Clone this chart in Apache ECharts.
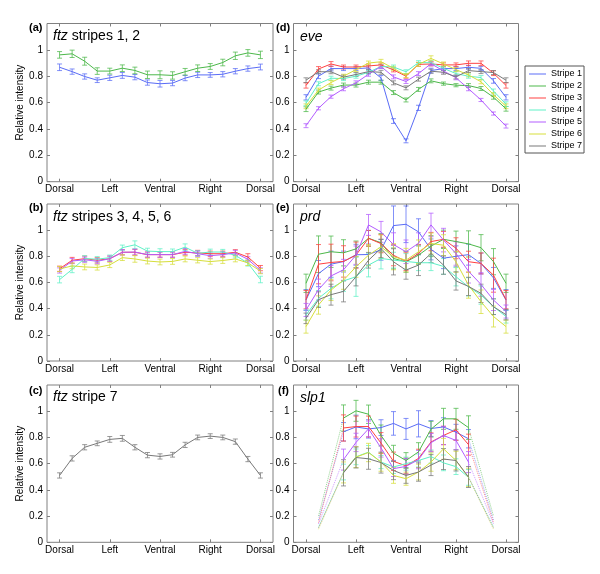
<!DOCTYPE html>
<html><head><meta charset="utf-8">
<script src="https://cdn.jsdelivr.net/npm/echarts@6/dist/echarts.min.js"></script>
<style>html,body{margin:0;padding:0;background:#fff}#c{width:600px;height:574px}</style>
</head><body><div id="c"></div><script>
// ---- axis labels ----
const xLabels = ['Dorsal','Left','Ventral','Right','Dorsal'];
const xTickPos = [0,4,8,12,16];
const yTickPos = [0,0.2,0.4,0.6,0.8,1];
const yTickLabels = ['0','0.2','0.4','0.6','0.8','1'];
const stripeNames = ['Stripe 1','Stripe 2','Stripe 3','Stripe 4','Stripe 5','Stripe 6','Stripe 7'];

// ---- (a) ftz stripes 1, 2 ----
const ftz12_s1 = [0.868,0.835,0.798,0.77,0.788,0.806,0.793,0.752,0.743,0.748,0.786,0.81,0.81,0.815,0.838,0.858,0.87];
const ftz12_s1_err = [0.025,0.02,0.02,0.018,0.02,0.022,0.02,0.02,0.025,0.02,0.02,0.02,0.018,0.02,0.02,0.02,0.022];
const ftz12_s2 = [0.962,0.97,0.914,0.839,0.839,0.861,0.844,0.811,0.811,0.806,0.834,0.861,0.874,0.904,0.955,0.977,0.962];
const ftz12_s2_err = [0.025,0.028,0.03,0.025,0.022,0.025,0.025,0.028,0.03,0.028,0.025,0.025,0.022,0.025,0.028,0.025,0.028];

// ---- (b) ftz stripes 3, 4, 5, 6 ----
const ftz3456_s3 = [0.705,0.77,0.782,0.77,0.782,0.831,0.831,0.813,0.813,0.813,0.831,0.826,0.82,0.82,0.831,0.795,0.71];
const ftz3456_s3_err = [0.02,0.022,0.02,0.02,0.02,0.02,0.022,0.02,0.02,0.02,0.022,0.02,0.02,0.02,0.02,0.025,0.02];
const ftz3456_s4 = [0.622,0.7,0.783,0.778,0.79,0.866,0.888,0.84,0.836,0.836,0.87,0.823,0.833,0.833,0.808,0.748,0.623];
const ftz3456_s4_err = [0.025,0.025,0.022,0.02,0.02,0.02,0.03,0.022,0.022,0.02,0.025,0.02,0.022,0.02,0.02,0.022,0.025];
const ftz3456_s5 = [0.692,0.764,0.774,0.762,0.782,0.831,0.833,0.813,0.813,0.813,0.838,0.82,0.805,0.813,0.826,0.777,0.692];
const ftz3456_s5_err = [0.02,0.02,0.02,0.02,0.02,0.02,0.022,0.02,0.02,0.02,0.022,0.02,0.02,0.02,0.02,0.02,0.02];
const ftz3456_s6 = [0.703,0.727,0.719,0.715,0.734,0.79,0.78,0.764,0.757,0.761,0.78,0.77,0.76,0.768,0.78,0.75,0.687];
const ftz3456_s6_err = [0.02,0.022,0.022,0.02,0.02,0.022,0.025,0.022,0.022,0.022,0.022,0.02,0.02,0.022,0.022,0.02,0.02];

// ---- (c) ftz stripe 7 ----
const ftz7_s7 = [0.51,0.64,0.725,0.755,0.785,0.793,0.725,0.665,0.655,0.668,0.743,0.80,0.81,0.80,0.768,0.635,0.51];
const ftz7_s7_err = [0.02,0.02,0.02,0.018,0.022,0.022,0.02,0.02,0.02,0.018,0.02,0.018,0.018,0.018,0.02,0.02,0.02];

// ---- (d) eve ----
const eve_s1 = [0.64,0.80,0.858,0.858,0.858,0.863,0.787,0.46,0.31,0.56,0.843,0.858,0.858,0.868,0.86,0.765,0.64];
const eve_s2 = [0.55,0.68,0.71,0.733,0.733,0.755,0.755,0.676,0.62,0.70,0.765,0.744,0.732,0.729,0.707,0.641,0.553];
const eve_s3 = [0.73,0.855,0.893,0.87,0.87,0.878,0.886,0.848,0.80,0.89,0.893,0.886,0.886,0.898,0.898,0.823,0.73];
const eve_s4 = [0.595,0.743,0.785,0.782,0.80,0.83,0.874,0.87,0.834,0.903,0.903,0.86,0.82,0.80,0.79,0.688,0.588];
const eve_s5 = [0.425,0.557,0.645,0.705,0.75,0.815,0.874,0.795,0.76,0.82,0.895,0.84,0.788,0.705,0.62,0.517,0.422];
const eve_s6 = [0.572,0.695,0.752,0.80,0.85,0.90,0.91,0.86,0.805,0.89,0.935,0.893,0.85,0.81,0.758,0.66,0.572];
const eve_s7 = [0.77,0.834,0.834,0.793,0.813,0.835,0.83,0.75,0.712,0.778,0.838,0.83,0.795,0.843,0.835,0.828,0.77];
const eve_s1_err = [0.02,0.018,0.018,0.015,0.015,0.015,0.018,0.018,0.015,0.02,0.018,0.015,0.015,0.015,0.015,0.018,0.02];
const eve_s2_err = [0.018,0.015,0.015,0.015,0.015,0.015,0.015,0.015,0.015,0.015,0.015,0.012,0.012,0.015,0.015,0.015,0.018];
const eve_s3_err = [0.02,0.018,0.018,0.015,0.015,0.015,0.015,0.015,0.015,0.015,0.015,0.015,0.015,0.018,0.018,0.018,0.02];
const eve_s4_err = [0.018,0.015,0.015,0.015,0.015,0.015,0.015,0.015,0.015,0.015,0.015,0.015,0.015,0.015,0.015,0.015,0.018];
const eve_s5_err = [0.015,0.012,0.012,0.015,0.015,0.015,0.015,0.015,0.015,0.015,0.015,0.015,0.015,0.015,0.012,0.012,0.015];
const eve_s6_err = [0.018,0.015,0.015,0.015,0.015,0.015,0.018,0.015,0.015,0.015,0.02,0.015,0.015,0.015,0.015,0.015,0.018];
const eve_s7_err = [0.018,0.015,0.015,0.015,0.015,0.015,0.015,0.015,0.015,0.015,0.015,0.015,0.015,0.015,0.015,0.015,0.018];

// ---- (e) prd ----
const prd_s1 = [0.466,0.668,0.74,0.76,0.812,0.814,0.85,1.035,1.045,0.987,0.853,0.786,0.80,0.813,0.745,0.635,0.466];
const prd_s2 = [0.594,0.816,0.835,0.827,0.857,0.938,0.904,0.784,0.758,0.809,0.878,0.93,0.913,0.895,0.866,0.759,0.594];
const prd_s3 = [0.469,0.74,0.753,0.761,0.809,0.938,0.897,0.808,0.761,0.821,0.913,0.93,0.862,0.759,0.746,0.656,0.469];
const prd_s4 = [0.352,0.479,0.555,0.612,0.644,0.733,0.784,0.771,0.761,0.751,0.751,0.723,0.644,0.567,0.504,0.415,0.34];
const prd_s5 = [0.39,0.546,0.65,0.697,0.809,1.04,0.987,0.89,0.835,0.9,1.04,0.924,0.822,0.686,0.585,0.466,0.378];
const prd_s6 = [0.263,0.428,0.542,0.618,0.72,0.809,0.873,0.797,0.771,0.835,0.898,0.885,0.758,0.58,0.453,0.34,0.263];
const prd_s7 = [0.326,0.469,0.507,0.532,0.644,0.77,0.86,0.758,0.695,0.733,0.822,0.733,0.612,0.57,0.517,0.415,0.354];
const prd_s1_err = [0.08,0.1,0.1,0.08,0.08,0.08,0.08,0.15,0.14,0.1,0.08,0.08,0.08,0.08,0.08,0.08,0.08];
const prd_s2_err = [0.07,0.14,0.12,0.1,0.06,0.06,0.07,0.08,0.08,0.07,0.08,0.07,0.08,0.1,0.1,0.1,0.07];
const prd_s3_err = [0.07,0.15,0.14,0.12,0.1,0.06,0.07,0.08,0.07,0.07,0.07,0.06,0.08,0.08,0.08,0.13,0.07];
const prd_s4_err = [0.04,0.06,0.08,0.08,0.15,0.09,0.08,0.06,0.06,0.06,0.06,0.06,0.07,0.07,0.07,0.06,0.05];
const prd_s5_err = [0.05,0.08,0.08,0.08,0.07,0.08,0.08,0.09,0.09,0.08,0.09,0.09,0.09,0.09,0.09,0.08,0.05];
const prd_s6_err = [0.05,0.07,0.08,0.07,0.08,0.08,0.09,0.1,0.09,0.09,0.08,0.08,0.08,0.1,0.09,0.08,0.05];
const prd_s7_err = [0.04,0.06,0.08,0.08,0.07,0.06,0.07,0.1,0.07,0.08,0.07,0.07,0.07,0.07,0.07,0.06,0.04];

// ---- (f) slp1 (positions 3..13), dotted tails to positions 1 and 15 ----
const slp1_start = 3;
const slp1_s1 = [0.843,0.88,0.865,0.875,0.907,0.865,0.904,0.868,0.88,0.84,0.79];
const slp1_s2 = [0.948,1.003,0.977,0.815,0.68,0.624,0.69,0.863,0.942,0.942,0.875];
const slp1_s3 = [0.872,0.883,0.883,0.757,0.618,0.583,0.64,0.765,0.815,0.858,0.745];
const slp1_s4 = [0.536,0.652,0.688,0.612,0.575,0.6,0.624,0.654,0.606,0.577,0.495];
const slp1_s5 = [0.631,0.762,0.865,0.72,0.562,0.579,0.631,0.76,0.815,0.777,0.612];
const slp1_s6 = [0.533,0.65,0.685,0.612,0.51,0.485,0.536,0.612,0.713,0.624,0.495];
const slp1_s7 = [0.53,0.647,0.637,0.608,0.548,0.51,0.536,0.589,0.635,0.624,0.498];
const slp1_s1_err = [0.07,0.09,0.07,0.06,0.09,0.08,0.1,0.06,0.07,0.06,0.07];
const slp1_s2_err = [0.1,0.08,0.07,0.08,0.06,0.06,0.07,0.06,0.08,0.08,0.09];
const slp1_s3_err = [0.1,0.08,0.08,0.08,0.07,0.06,0.07,0.07,0.07,0.08,0.08];
const slp1_s4_err = [0.06,0.06,0.05,0.05,0.05,0.05,0.05,0.05,0.06,0.06,0.06];
const slp1_s5_err = [0.08,0.07,0.06,0.07,0.06,0.06,0.07,0.07,0.07,0.07,0.08];
const slp1_s6_err = [0.08,0.08,0.07,0.07,0.06,0.05,0.06,0.07,0.08,0.07,0.07];
const slp1_s7_err = [0.1,0.08,0.08,0.08,0.07,0.06,0.07,0.08,0.08,0.08,0.08];
const slp1_tailPos = [1, 15];
const slp1_tailLeft  = [0.17,0.2,0.15,0.12,0.14,0.1,0.11];
const slp1_tailRight = [0.17,0.2,0.15,0.12,0.14,0.1,0.11];

// ---- styling ----
const FONT = 'Liberation Sans, Arial, Helvetica, sans-serif';
const COLORS = ['#5a6cf6','#4cb84a','#ff4040','#5ef0c6','#b35cff','#d6de3a','#787878'];
const AXIS_C = '#808080';

const grids = [
  {left:47, top:23.5, width:226, height:158.2},
  {left:47, top:204, width:226, height:157},
  {left:47, top:385, width:226, height:157.3},
  {left:293.5, top:23.5, width:225, height:158.2},
  {left:293.5, top:204, width:225, height:157},
  {left:293.5, top:385, width:225, height:157.3}
];

const panels = [
  {g:0, start:0, lines:[[1,ftz12_s1,ftz12_s1_err],[2,ftz12_s2,ftz12_s2_err]]},
  {g:1, start:0, lines:[[3,ftz3456_s3,ftz3456_s3_err],[4,ftz3456_s4,ftz3456_s4_err],[5,ftz3456_s5,ftz3456_s5_err],[6,ftz3456_s6,ftz3456_s6_err]]},
  {g:2, start:0, lines:[[7,ftz7_s7,ftz7_s7_err]]},
  {g:3, start:0, lines:[[1,eve_s1,eve_s1_err],[2,eve_s2,eve_s2_err],[3,eve_s3,eve_s3_err],[4,eve_s4,eve_s4_err],[5,eve_s5,eve_s5_err],[6,eve_s6,eve_s6_err],[7,eve_s7,eve_s7_err]]},
  {g:4, start:0, lines:[[1,prd_s1,prd_s1_err],[2,prd_s2,prd_s2_err],[3,prd_s3,prd_s3_err],[4,prd_s4,prd_s4_err],[5,prd_s5,prd_s5_err],[6,prd_s6,prd_s6_err],[7,prd_s7,prd_s7_err]]},
  {g:5, start:slp1_start, tails:true, lines:[[1,slp1_s1,slp1_s1_err],[2,slp1_s2,slp1_s2_err],[3,slp1_s3,slp1_s3_err],[4,slp1_s4,slp1_s4_err],[5,slp1_s5,slp1_s5_err],[6,slp1_s6,slp1_s6_err],[7,slp1_s7,slp1_s7_err]]}
];

function renderErr(params, api){
  const x = api.value(0), lo = api.value(1), hi = api.value(2);
  const a = api.coord([x, hi]), b = api.coord([x, lo]);
  const w = 2.5;
  const st = {stroke: api.visual('color'), lineWidth: 1, opacity: 0.75};
  return {type:'group', children:[
    {type:'line', shape:{x1:a[0], y1:a[1], x2:b[0], y2:b[1]}, style:st},
    {type:'line', shape:{x1:a[0]-w, y1:a[1], x2:a[0]+w, y2:a[1]}, style:st},
    {type:'line', shape:{x1:b[0]-w, y1:b[1], x2:b[0]+w, y2:b[1]}, style:st}
  ]};
}

const xAxes = [], yAxes = [], series = [], errSeries = [];
grids.forEach((gr, g) => {
  gr.show = true; gr.borderColor = AXIS_C; gr.borderWidth = 1; gr.backgroundColor = '#fff';
  xAxes.push({type:'value', gridIndex:g, min:-1, max:17, position:'bottom',
    axisLine:{show:false, onZero:false}, splitLine:{show:false},
    axisTick:{show:true, inside:true, length:3, customValues:xTickPos, lineStyle:{color:AXIS_C}},
    axisLabel:{show:true, customValues:xTickPos, margin:3, fontSize:10, color:'#000', fontFamily:FONT,
      formatter: v => xLabels[xTickPos.indexOf(Math.round(v))] || ''}});
  xAxes.push({type:'value', gridIndex:g, min:-1, max:17, position:'top',
    axisLine:{show:false, onZero:false}, splitLine:{show:false},
    axisTick:{show:true, inside:true, length:3, customValues:xTickPos, lineStyle:{color:AXIS_C}},
    axisLabel:{show:false}});
  const leftCol = g < 3;
  yAxes.push({type:'value', gridIndex:g, min:0, max:1.2, position:'left',
    name: leftCol ? 'Relative intensity' : '', nameLocation:'middle', nameGap:18,
    nameTextStyle:{fontSize:10, color:'#000', fontFamily:FONT},
    axisLine:{show:false, onZero:false}, splitLine:{show:false},
    axisTick:{show:true, inside:true, length:3, customValues:yTickPos, lineStyle:{color:AXIS_C}},
    axisLabel:{show:true, customValues:yTickPos, margin:4, fontSize:10, color:'#000', fontFamily:FONT,
      formatter: v => { const k = yTickPos.findIndex(t => Math.abs(t - v) < 1e-6); return k >= 0 ? yTickLabels[k] : ''; }}});
  yAxes.push({type:'value', gridIndex:g, min:0, max:1.2, position:'right',
    axisLine:{show:false, onZero:false}, splitLine:{show:false},
    axisTick:{show:true, inside:true, length:3, customValues:yTickPos, lineStyle:{color:AXIS_C}},
    axisLabel:{show:false}});
});

panels.forEach(p => {
  p.lines.forEach(([s, vals, err]) => {
    const color = COLORS[s-1];
    series.push({type:'line', name:stripeNames[s-1], xAxisIndex:2*p.g, yAxisIndex:2*p.g,
      data: vals.map((v,k) => [p.start + k, v]), symbol:'none', silent:true, z:4,
      lineStyle:{width:1, color}, itemStyle:{color}, animation:false});
    errSeries.push({type:'custom', name:'err'+s, xAxisIndex:2*p.g, yAxisIndex:2*p.g,
      renderItem: renderErr, encode:{x:0, y:[1,2]}, silent:true, z:3, animation:false,
      itemStyle:{color},
      data: vals.map((v,k) => [p.start + k, +(v - err[k]).toFixed(4), +(v + err[k]).toFixed(4)])});
    if (p.tails) {
      const n = vals.length;
      errSeries.push({type:'line', name:'tailL'+s, xAxisIndex:2*p.g, yAxisIndex:2*p.g, symbol:'none', silent:true, z:2, animation:false,
        lineStyle:{width:1, type:'dotted', color, opacity:0.6},
        data:[[slp1_tailPos[0], slp1_tailLeft[s-1]], [p.start, vals[0]]]});
      errSeries.push({type:'line', name:'tailR'+s, xAxisIndex:2*p.g, yAxisIndex:2*p.g, symbol:'none', silent:true, z:2, animation:false,
        lineStyle:{width:1, type:'dotted', color, opacity:0.6},
        data:[[p.start + n - 1, vals[n-1]], [slp1_tailPos[1], slp1_tailRight[s-1]]]});
    }
  });
});

const titleBase = {padding:0, textStyle:{fontSize:14, fontWeight:'normal', color:'#000', fontFamily:FONT, lineHeight:16,
  rich:{i:{fontStyle:'italic', fontSize:14, fontFamily:FONT, color:'#000', lineHeight:16}}}};
const labelBase = {padding:0, textStyle:{fontSize:11, fontWeight:'bold', color:'#000', fontFamily:FONT, lineHeight:12}};
const titles = [
  Object.assign({text:'{i|ftz} stripes 1, 2', left:53, top:28}, titleBase),
  Object.assign({text:'{i|ftz} stripes 3, 4, 5, 6', left:53, top:209}, titleBase),
  Object.assign({text:'{i|ftz} stripe 7', left:53, top:389}, titleBase),
  Object.assign({text:'{i|eve}', left:300, top:29}, titleBase),
  Object.assign({text:'{i|prd}', left:300, top:209}, titleBase),
  Object.assign({text:'{i|slp1}', left:300, top:390}, titleBase),
  Object.assign({text:'(a)', left:29, top:21.5}, labelBase),
  Object.assign({text:'(b)', left:29, top:202}, labelBase),
  Object.assign({text:'(c)', left:29, top:385}, labelBase),
  Object.assign({text:'(d)', left:276, top:21.5}, labelBase),
  Object.assign({text:'(e)', left:276, top:202}, labelBase),
  Object.assign({text:'(f)', left:278, top:385}, labelBase)
];

const chart = echarts.init(document.getElementById('c'), null, {renderer:'canvas'});
chart.setOption({
  animation:false,
  backgroundColor:'#fff',
  title: titles,
  grid: grids,
  xAxis: xAxes,
  yAxis: yAxes,
  legend: {data: stripeNames, orient:'vertical', left:525, top:66, icon:'rect', itemWidth:17, itemHeight:1, itemGap:0,
    padding:[2,2,1,4], borderColor:'#555', borderWidth:1, backgroundColor:'#fff', selectedMode:false,
    textStyle:{fontSize:9, lineHeight:12, color:'#000', fontFamily:FONT}},
  series: series.concat(errSeries)
});
</script></body></html>
